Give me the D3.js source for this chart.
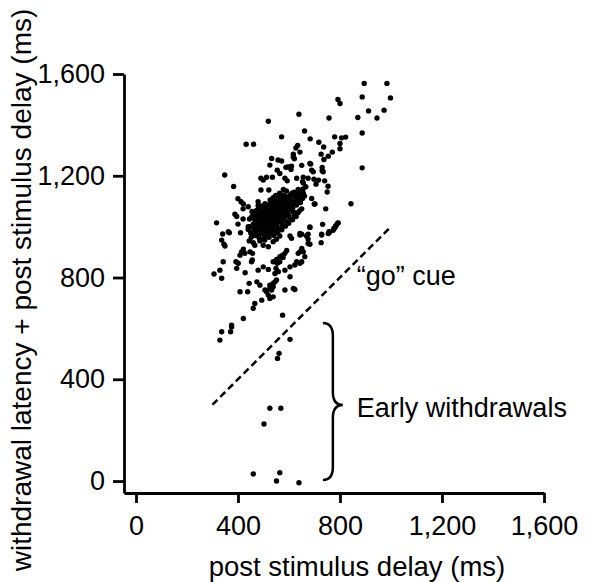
<!DOCTYPE html>
<html>
<head>
<meta charset="utf-8">
<script src="https://cdn.jsdelivr.net/npm/d3@7"></script>
<style>
  body { margin: 0; background: #fff; }
  svg { display: block; }
  text { font-family: "Liberation Sans", Arial, sans-serif; fill: #000; }
</style>
</head>
<body>
<svg id="chart" width="591" height="582"></svg>
<script>
// trials: [post stimulus delay, withdrawal latency + post stimulus delay] (ms)
const upperTail = [
  [895,1563],[984,1563],[887,1510],[998,1506],[792,1500],[800,1484],[639,1442],[757,1427],
  [912,1455],[973,1458],[945,1427],[870,1429],[519,1414],[887,1368],[661,1376],[571,1353],
  [683,1345],[432,1324],[461,1324],[779,1353],[806,1349],[822,1352],[717,1332],[736,1313],
  [800,1327],[800,1306],[634,1319],[627,1309],[643,1293],[770,1293],[726,1285],[754,1277],
  [737,1264],[617,1285],[621,1267],[532,1268],[557,1262],[571,1258],[617,1274]
];
const upperMiddle = [
  [525,1242],[887,1231],[650,1241],[685,1246],[689,1222],[730,1233],[730,1220],[595,1235],
  [610,1238],[608,1225],[554,1222],[564,1209],[348,1203],[383,1158],[490,1190],[512,1194],
  [535,1194],[630,1190],[656,1194],[675,1190],[698,1186],[716,1183],[740,1180],[584,1190],
  [593,1180],[499,1183],[706,1167],[753,1159],[750,1136],[490,1144],[521,1144],[636,1146],
  [656,1172],[653,1177],[666,1157],[656,1131],[653,1111],[689,1111],[702,1089],[604,1235],
  [588,1233],[682,1248],[695,1216],[734,1216]
];
const middle = [
  [843,1090],[744,1070],[699,1089],[412,1098],[421,1089],[440,1078],[479,1098],[479,1082],
  [388,1049],[316,1015],[732,1009],[754,973],[757,980],[776,993],[783,1003],[791,1014],
  [728,967],[726,937],[682,997],[793,1015],[786,1006],[780,996],[773,986],[758,977],
  [728,970],[675,970],[650,970],[675,951],[682,931],
  [400,1110],[420,1070],[455,1060],[395,1040],[445,1030],[470,1040],[480,1070],[470,1010],
  [440,1000],[420,1030],[400,1010]
];
const core = [
  [450,975],[465,985],[480,995],[495,1005],[505,1015],[515,1020],[525,1030],[535,1035],
  [545,1045],[555,1050],[565,1060],[575,1070],[585,1075],[595,1085],[605,1095],[615,1100],
  [625,1110],[640,1120],[650,1130],
  [445,1000],[460,1010],[475,1020],[490,1030],[500,1040],[510,1050],[520,1055],[530,1065],
  [540,1070],[550,1080],[560,1090],[570,1095],[580,1105],[590,1115],[605,1125],[620,1135],
  [470,965],[485,970],[500,980],[515,990],[525,1000],[535,1010],[545,1015],[555,1025],
  [565,1035],[575,1040],[585,1050],[595,1060],[605,1065],[615,1075],[630,1085],[645,1095],
  [455,1040],[470,1050],[485,1060],[500,1075],[515,1085],[530,1095],[545,1100],[560,1115],
  [575,1125],[590,1140],
  [495,950],[510,960],[530,975],[545,985],[560,995],[575,1005],[590,1020],[605,1030],
  [620,1045],[635,1055],[650,1070],
  [520,1010],[540,1025],[560,1070],[580,1085],[500,1000],[480,1040],[530,1080],[600,1100],
  [610,1080],[570,1020],[550,1000],[590,1060],[520,1040],[540,1055],[565,1080]
];
const coreExtra = [
  [452,958],[462,992],[471,1003],[478,982],[487,1012],[492,991],[498,1022],[503,968],
  [508,1033],[511,1004],[517,1047],[519,978],[523,1018],[527,1061],[531,992],[534,1049],
  [537,1027],[542,1006],[544,1088],[547,1036],[551,1063],[553,1012],[557,1101],[559,1041],
  [562,1078],[566,1018],[568,1052],[571,1110],[573,1066],[577,1033],[579,1093],[582,1058],
  [586,1120],[588,1041],[592,1079],[596,1098],[598,1046],[602,1113],[607,1070],[611,1131],
  [613,1092],[618,1058],[622,1118],[626,1096],[631,1128],[636,1105],[642,1141],[647,1112],
  [655,1148],[661,1120],[466,1027],[473,1064],[482,1049],[489,1081],[494,1057],[506,1090],
  [512,1069],[526,1105],[538,1114],[548,1123],[563,1131],[578,1146],[459,967],[483,955],
  [505,947],[522,958],[541,965],[556,977],[572,988],[586,1002],[599,1013],[614,1027],
  [628,1040],[641,1062],[533,1042],[549,1059],[563,1047],[581,1066],[596,1075],[516,1031],
  [528,1016],[544,1030],[507,1058],[491,1010]
];
const lowerMiddle = [
  [340,971],[362,980],[366,976],[336,947],[345,931],[349,924],[410,976],[440,989],
  [453,973],[444,944],[460,937],[466,927],[486,944],[499,927],[519,921],[538,941],
  [551,950],[564,963],[604,963],[610,954],[643,967],[682,999],[669,963],[675,934],
  [643,973],[650,906],[643,901],[636,895],[630,862],[591,906],[584,895],[577,879],
  [564,862],[554,856],[549,836],[421,911],[414,901],[427,895],[408,888],[447,901],
  [457,895],[456,869],[453,862],[538,862],[551,871],[564,882],[575,888],[650,914],
  [656,901],[662,882],[650,862],[342,862],[392,862],[401,856]
];
const lower = [
  [329,829],[336,797],[306,814],[395,836],[479,829],[499,842],[519,832],[428,819],
  [545,816],[558,823],[551,790],[545,783],[538,777],[525,770],[584,829],[604,842],
  [623,849],[643,856],[604,803],[408,744],[438,744],[444,777],[474,783],[486,770],
  [506,751],[512,744],[525,757],[532,751],[538,764],[519,731],[525,718],[538,724],
  [584,751],[617,757],[623,753],[493,711]
];
const lowerTail = [
  [460,679],[466,698],[421,639],[336,587],[375,606],[371,587],[329,554],[375,613],
  [575,652],[604,557],[561,502],[555,482]
];
const earlyWithdrawals = [
  [525,286],[568,286],[502,224],[460,28],[564,33],[551,0],[639,-7]
];

const tickValues = [0, 400, 800, 1200, 1600];
const goCueLine = [[300,300],[1000,1000]];
const xLabel = "post stimulus delay (ms)";
const yLabel = "withdrawal latency + post stimulus delay (ms)";

let svg = d3.select("#chart");
let fontSize = 27;

let x = d3.scaleLinear().domain([-47, 1600]).range([124, 544]);
let y = d3.scaleLinear().domain([-47, 1600]).range([493, 74]);

// axes
let xAxis = svg.append("g")
  .attr("transform", "translate(0," + y(-47) + ")")
  .call(d3.axisBottom(x).tickValues(tickValues).tickSize(10).tickSizeOuter(0).tickPadding(13)
    .tickFormat(d3.format(",")));
let yAxis = svg.append("g")
  .attr("transform", "translate(" + x(-47) + ",0)")
  .call(d3.axisLeft(y).tickValues(tickValues).tickSize(11).tickSizeOuter(0).tickPadding(8)
    .tickFormat(d3.format(",")));

[xAxis, yAxis].forEach(function(g) {
  g.select(".domain").attr("stroke", "#000").attr("stroke-width", 2.8);
  g.selectAll(".tick line").attr("stroke", "#000").attr("stroke-width", 2.8);
  g.selectAll(".tick text")
    .style("font-family", '"Liberation Sans", Arial, sans-serif')
    .style("font-size", fontSize + "px")
    .attr("fill", "#000");
});

// axis titles
svg.append("text")
  .attr("x", 357)
  .attr("y", 576)
  .attr("text-anchor", "middle")
  .style("font-size", "27.5px")
  .text(xLabel);

svg.append("text")
  .attr("transform", "translate(31,290) rotate(-90)")
  .attr("text-anchor", "middle")
  .style("font-size", "28px")
  .text(yLabel);

// "go" cue diagonal
svg.append("line")
  .attr("x1", x(goCueLine[0][0]))
  .attr("y1", y(goCueLine[0][1]))
  .attr("x2", x(goCueLine[1][0]))
  .attr("y2", y(goCueLine[1][1]))
  .attr("stroke", "#000")
  .attr("stroke-width", 2.5)
  .attr("stroke-dasharray", "7,4");

// dots
let allTrials = [].concat(upperTail, upperMiddle, middle, core, coreExtra, lowerMiddle, lower, lowerTail, earlyWithdrawals);
svg.selectAll(".dot")
  .data(allTrials)
  .enter()
  .append("circle")
  .attr("class", "dot")
  .attr("cx", d => x(d[0]))
  .attr("cy", d => y(d[1]))
  .attr("r", 2.7)
  .attr("fill", "#000");

// brace round the early withdrawals
let bx0 = x(733), bxm = x(772), bxt = x(811);
let byTop = y(621), byMid = y(299), byBot = y(4);
let r = 13;
let brace = d3.path();
brace.moveTo(bx0, byTop);
brace.quadraticCurveTo(bxm, byTop, bxm, byTop + r);
brace.lineTo(bxm, byMid - r);
brace.quadraticCurveTo(bxm, byMid, bxt, byMid);
brace.quadraticCurveTo(bxm, byMid, bxm, byMid + r);
brace.lineTo(bxm, byBot - r);
brace.quadraticCurveTo(bxm, byBot, bx0, byBot);
svg.append("path")
  .attr("d", brace.toString())
  .attr("fill", "none")
  .attr("stroke", "#000")
  .attr("stroke-width", 2.5);

// annotations
svg.append("text")
  .attr("x", x(866))
  .attr("y", y(770))
  .style("font-size", fontSize + "px")
  .text("\u201Cgo\u201D cue");

svg.append("text")
  .attr("x", x(866))
  .attr("y", y(252))
  .style("font-size", fontSize + "px")
  .text("Early withdrawals");
</script>
</body>
</html>
